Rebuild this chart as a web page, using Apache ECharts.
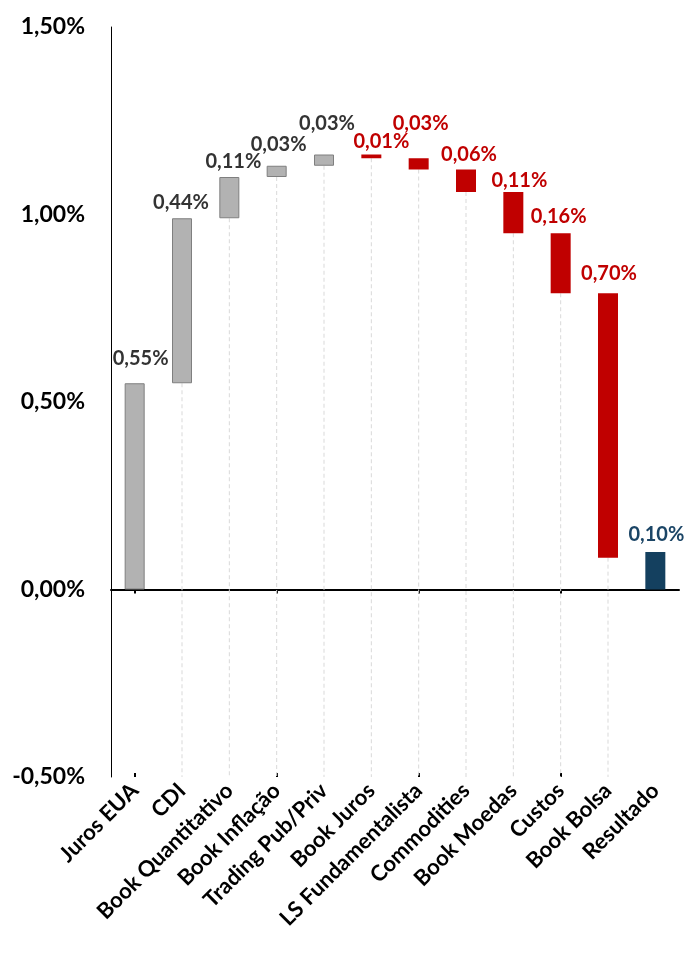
<!DOCTYPE html>
<html>
<head>
<meta charset="utf-8">
<script src="https://cdn.jsdelivr.net/npm/echarts@6/dist/echarts.min.js"></script>
<style>
html,body{margin:0;padding:0;background:#fff;}
#chart{width:684px;height:971px;}
</style>
</head>
<body>
<div id="chart"></div>
<script>
// ---- Data ----
const categories = ['Juros EUA','CDI','Book Quantitativo','Book Inflação','Trading Pub/Priv','Book Juros','LS Fundamentalista','Commodities','Book Moedas','Custos','Book Bolsa','Resultado'];
const barStart = [0, 0.55, 0.99, 1.10, 1.13, 1.16, 1.15, 1.12, 1.06, 0.95, 0.79, 0];
const barEnd   = [0.55, 0.99, 1.10, 1.13, 1.16, 1.15, 1.12, 1.06, 0.95, 0.79, 0.085, 0.10];
const valueLabels = ['0,55%','0,44%','0,11%','0,03%','0,03%','0,01%','0,03%','0,06%','0,11%','0,16%','0,70%','0,10%'];
const barKind = ['pos','pos','pos','pos','pos','neg','neg','neg','neg','neg','neg','total'];
const yTicks = { min: -0.5, max: 1.5, interval: 0.5 };

// ---- Styles ----
const FONT = 'Lato';
const kindStyle = {
  pos:   { color: '#b2b2b2', borderColor: '#7f7f7f', borderWidth: 1, label: '#333333' },
  neg:   { color: '#c00000', borderColor: '#c00000', borderWidth: 0, label: '#c00000' },
  total: { color: '#14405f', borderColor: '#14405f', borderWidth: 0, label: '#1b4566' }
};
const labelOffsets = [[6,-10],[-1,-1],[4,0],[2,-6],[3,-16],[10,2],[2,-20],[3,0],[6,4],[-2,-2],[1,-5],[1,-2]];

const lower = barStart.map((s, i) => Math.min(s, barEnd[i]));
const height = barStart.map((s, i) => Math.abs(barEnd[i] - s));

const chart = echarts.init(document.getElementById('chart'), null, { renderer: 'canvas' });

const catAxisBase = { type: 'category', data: categories, boundaryGap: true };

chart.setOption({
  animation: false,
  backgroundColor: '#ffffff',
  grid: { left: 111, right: 5, top: 27, bottom: 194, containLabel: false },
  xAxis: [
    Object.assign({}, catAxisBase, {
      position: 'bottom',
      axisLine: { show: false, onZero: false },
      axisTick: { show: false },
      axisLabel: { rotate: 45, interval: 0, margin: 10, color: '#000', fontFamily: FONT, fontWeight: 'bold', fontSize: 22 }
    }),
    Object.assign({}, catAxisBase, {
      position: 'bottom',
      axisLine: { show: true, onZero: true, lineStyle: { color: '#000', width: 2 } },
      axisTick: { show: true, alignWithLabel: true, inside: false, length: 4, lineStyle: { color: '#000', width: 2 } },
      axisLabel: { show: false }
    }),
    Object.assign({}, catAxisBase, {
      position: 'bottom',
      axisLine: { show: false, onZero: true },
      axisTick: { show: true, alignWithLabel: true, inside: true, length: 4, lineStyle: { color: '#000', width: 2 } },
      axisLabel: { show: false }
    })
  ],
  yAxis: {
    type: 'value', min: yTicks.min, max: yTicks.max, interval: yTicks.interval,
    axisLine: { show: true, lineStyle: { color: '#000', width: 1 } },
    axisTick: { show: false },
    splitLine: { show: false },
    axisLabel: {
      margin: 26, color: '#000', fontFamily: FONT, fontWeight: 'bold', fontSize: 23,
      formatter: v => v.toFixed(2).replace('.', ',') + '%'
    }
  },
  series: [
    {
      type: 'custom',
      xAxisIndex: 0,
      z: 1,
      silent: true,
      data: categories.map((c, i) => [i, lower[i], barStart[i]]),
      renderItem: function (params, api) {
        const idx = api.value(0);
        if (!(api.value(2) > 0)) return null;
        const p1 = api.coord([idx, api.value(1)]);
        const p2 = api.coord([idx, yTicks.min]);
        return {
          type: 'line',
          shape: { x1: p1[0], y1: p1[1], x2: p2[0], y2: p2[1] },
          style: { stroke: '#d9d9d9', lineWidth: 1, lineDash: [4, 3] }
        };
      }
    },
    {
      type: 'bar', stack: 'wf', xAxisIndex: 0, barWidth: 20, z: 2, silent: true,
      itemStyle: { color: 'rgba(0,0,0,0)' },
      data: lower
    },
    {
      type: 'bar', stack: 'wf', xAxisIndex: 0, barWidth: 20, z: 3,
      data: height.map((h, i) => {
        const st = kindStyle[barKind[i]];
        return {
          value: h,
          itemStyle: { color: st.color, borderColor: st.borderColor, borderWidth: st.borderWidth },
          label: {
            show: true, position: 'top', offset: labelOffsets[i],
            formatter: valueLabels[i],
            color: st.label, fontFamily: FONT, fontWeight: 'bold', fontSize: 20
          }
        };
      })
    }
  ]
});
</script>
</body>
</html>
